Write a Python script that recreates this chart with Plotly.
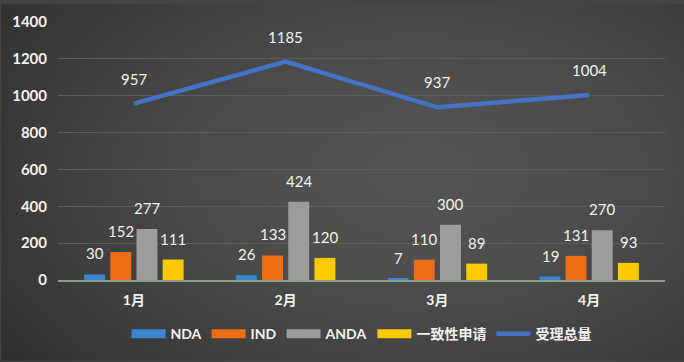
import base64, struct, zlib, math
import plotly.graph_objects as go

months = ["1月", "2月", "3月", "4月"]
nda = [30, 26, 7, 19]
ind = [152, 133, 110, 131]
anda = [277, 424, 300, 270]
yzx = [111, 120, 89, 93]
total = [957, 1185, 937, 1004]

W, H = 684, 362

def bg_png(w, h):
    raw = bytearray()
    cx, cy = 420, 170
    for y in range(h):
        raw.append(0)
        for x in range(w):
            d = math.sqrt(((x - cx) / 420.0) ** 2 + ((y - cy) / 260.0) ** 2)
            t = min(d, 1.3) / 1.3
            v = int(84 - 40 * t ** 1.6)
            raw += bytes((v, v, v))
    def chunk(tag, data):
        c = struct.pack(">I", len(data)) + tag + data
        return c + struct.pack(">I", zlib.crc32(tag + data) & 0xffffffff)
    png = b"\x89PNG\r\n\x1a\n" + chunk(b"IHDR", struct.pack(">IIBBBBB", w, h, 8, 2, 0, 0, 0))
    png += chunk(b"IDAT", zlib.compress(bytes(raw), 9)) + chunk(b"IEND", b"")
    return "data:image/png;base64," + base64.b64encode(png).decode()

FONT = "Lato, 'Noto Sans CJK SC', sans-serif"
series = [("NDA", nda, "#3a86d0"), ("IND", ind, "#ee6d12"), ("ANDA", anda, "#9c9c9c"), ("一致性申请", yzx, "#fcc800")]

fig = go.Figure()
for name, vals, col in series:
    fig.add_trace(go.Bar(x=months, y=vals, name=name, showlegend=False,
                         marker=dict(color=col, line=dict(width=0))))
    # legend-only entry drawn as a wide rectangle
    fig.add_trace(go.Scatter(x=[None], y=[None], name=name, mode="lines",
                             line=dict(color=col, width=9)))
fig.add_trace(go.Scatter(x=months, y=total, name="受理总量", mode="lines",
                         line=dict(color="#4472c4", width=4.5)))

ann = []
for i, (name, vals, col) in enumerate(series):
    for m, v in zip(months, vals):
        ann.append(dict(x=m, y=v, text=str(v), showarrow=False, xshift=(i - 1.5) * 26,
                        yshift=21, font=dict(color="#f2f2f2", size=15, family=FONT)))
for m, v in zip(months, total):
    ann.append(dict(x=m, y=v, text=str(v), showarrow=False, yshift=25,
                    font=dict(color="#f2f2f2", size=15, family=FONT)))

fig.update_layout(
    width=W, height=H,
    margin=dict(l=57, r=19, t=18, b=82),
    paper_bgcolor="#444444", plot_bgcolor="rgba(0,0,0,0)",
    barmode="group", bargap=0.31, bargroupgap=0.2,
    font=dict(family=FONT, color="#f2f2f2", size=14),
    images=[dict(source=bg_png(W, H), xref="paper", yref="paper", x=-57 / 608, y=1 + 18 / 262,
                 sizex=W / 608, sizey=H / 262, sizing="stretch", layer="below",
                 xanchor="left", yanchor="top")],
    legend=dict(orientation="h", x=0.5, xanchor="center", y=-0.21, yanchor="middle",
                font=dict(size=14, color="#f2f2f2", weight="bold"), bgcolor="rgba(0,0,0,0)",
                itemwidth=34, tracegroupgap=0),
    annotations=ann,
)
fig.update_yaxes(range=[0, 1400], dtick=200, gridcolor="#5c5c5c", gridwidth=1,
                 zeroline=False, showline=False,
                 tickfont=dict(size=15, color="#f2f2f2", weight="bold"),
                 ticklabelstandoff=10)
fig.update_xaxes(showline=True, linecolor="#8e9e8e", linewidth=2, showgrid=False,
                 tickfont=dict(size=14, color="#f2f2f2", weight="bold"), ticks="",
                 ticklabelstandoff=6)

fig.write_html("out.html", config={"displayModeBar": False},
               post_script="document.body.style.margin='0';document.body.style.overflow='hidden';")
